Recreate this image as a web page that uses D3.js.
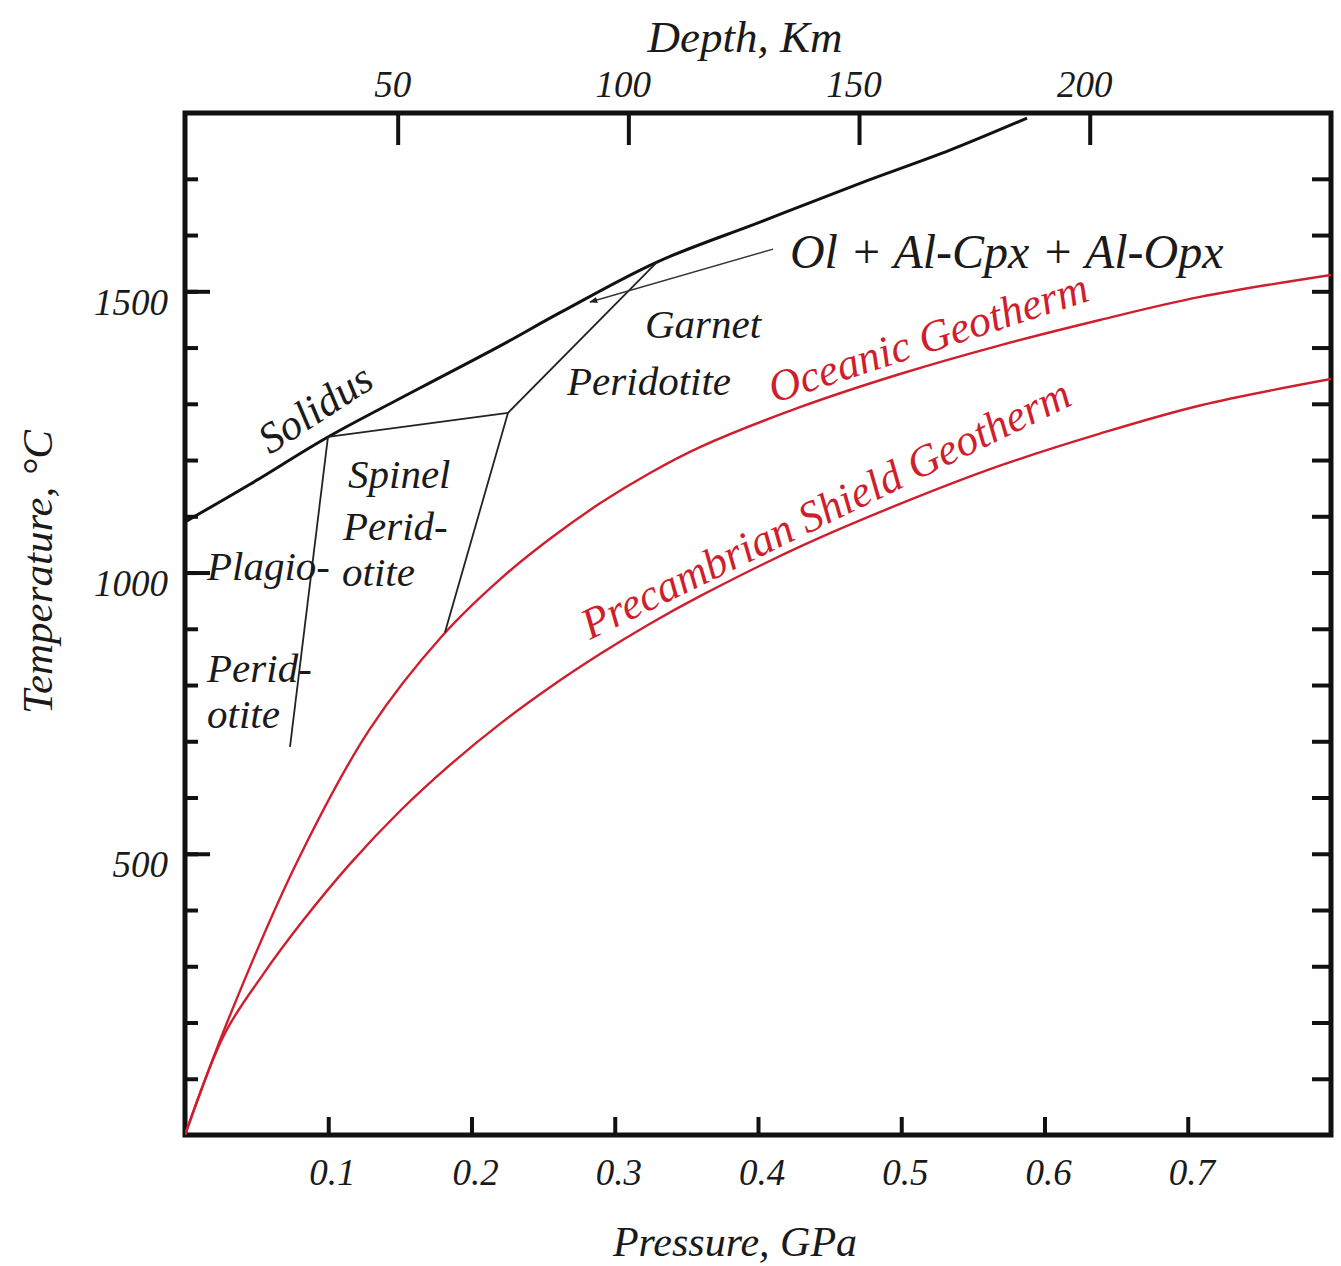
<!DOCTYPE html>
<html><head><meta charset="utf-8">
<script src="https://cdn.jsdelivr.net/npm/d3@7"></script>
<style>
body{margin:0;background:#fff;}
svg text{font-family:"Liberation Serif","DejaVu Serif",serif;font-style:italic;fill:#1a1a1a;}
</style></head><body>
<svg id="c" width="1341" height="1266"></svg>
<script>
// ---- data ----
const pressureTicks = [0.1, 0.2, 0.3, 0.4, 0.5, 0.6, 0.7];
const tempMajorTicks = [500, 1000, 1500];
const tempMinorTicks = [100, 200, 300, 400, 500, 600, 700, 800, 900, 1000, 1100, 1200, 1300, 1400, 1500, 1600, 1700];
const depthTicks = [50, 100, 150, 200];

// [pressure GPa, temperature °C]
const solidus = [[0,1090],[0.0454,1157],[0.0998,1241],[0.164,1328],[0.220,1403],[0.2618,1462],[0.3295,1552],[0.4014,1623],[0.4712,1692],[0.534,1751],[0.5878,1808]];
const plagioSpinel = [[0.0998,1241],[0.0733,690]];
const spinelTop = [[0.0998,1241],[0.2255,1284]];
const spinelGarnetLow = [[0.2255,1284],[0.1815,894]];
const spinelGarnetHigh = [[0.2255,1284],[0.3295,1552]];
const arrowLeader = [[0.4105,1575],[0.2827,1481]];
const oceanic = [[0,0],[0.030,204],[0.0789,489],[0.1291,722],[0.1801,889],[0.2199,988],[0.2548,1060],[0.2897,1123],[0.3246,1177],[0.3595,1223],[0.4293,1294],[0.4991,1353],[0.5689,1404],[0.6387,1449],[0.7086,1490],[0.800,1529]];
const precambrian = [[0,0],[0.0279,181],[0.0538,283],[0.0817,379],[0.1152,482],[0.1501,576],[0.1850,658],[0.2199,731],[0.2548,796],[0.2897,855],[0.3246,909],[0.3595,958],[0.4293,1046],[0.4991,1122],[0.5689,1190],[0.6387,1247],[0.7086,1297],[0.800,1344]];

const regionLabels = [
  {lines:["Plagio-"], p:0.0154, T:987},
  {lines:["Perid-"], p:0.0154, T:805},
  {lines:["otite"], p:0.0154, T:723},
  {lines:["Spinel"], p:0.1138, T:1150},
  {lines:["Perid-"], p:0.1103, T:1058},
  {lines:["otite"], p:0.1096, T:976},
  {lines:["Garnet"], p:0.3211, T:1417},
  {lines:["Peridotite"], p:0.2667, T:1316}
];

// ---- layout ----
const M = {left:185, top:113};
const W = 1146, H = 1022;
const svg = d3.select("#c");
const g = svg.append("g").attr("transform", `translate(${M.left},${M.top})`);

const x = d3.scaleLinear().domain([0, 0.8]).range([0, W]);
const y = d3.scaleLinear().domain([0, 1817]).range([H, 0]);
const depth = d3.scaleLinear().domain([3.9, 252.3]).range([0, W]);

const line = d3.line().x(d => x(d[0])).y(d => y(d[1]));
const curve = d3.line().x(d => x(d[0])).y(d => y(d[1])).curve(d3.curveCatmullRom.alpha(0.5));

const FS_TICK = 37;

const bAx = g.append("g").attr("transform", `translate(0,${H})`)
  .call(d3.axisBottom(x).tickValues(pressureTicks).tickSize(-18).tickPadding(24).tickFormat(d3.format(".1f")));
const tAx = g.append("g")
  .call(d3.axisTop(depth).tickValues(depthTicks).tickSize(-32).tickPadding(16).tickFormat(d3.format("d")));
const lMin = g.append("g").call(d3.axisLeft(y).tickValues(tempMinorTicks).tickSize(-13).tickFormat(""));
const lMaj = g.append("g").call(d3.axisLeft(y).tickValues(tempMajorTicks).tickSize(-25).tickPadding(17).tickFormat(d3.format("d")));
const rAx = g.append("g").attr("transform", `translate(${W},0)`)
  .call(d3.axisRight(y).tickValues(tempMinorTicks).tickSize(-19).tickFormat(""));

[bAx, tAx, lMin, lMaj, rAx].forEach(a => {
  a.select(".domain").remove();
  a.selectAll(".tick line").attr("stroke", "#111").attr("stroke-width", 4);
  a.selectAll(".tick text").attr("font-size", FS_TICK).attr("fill", "#1a1a1a")
    .style("font-family", '"Liberation Serif",serif').style("font-style", "italic");
});
lMaj.selectAll(".tick text").attr("dy", "0.62em");
bAx.selectAll(".tick text").attr("dx", "0.1em");
tAx.selectAll(".tick text").attr("dx", "-0.15em");

g.append("rect").attr("x", 0).attr("y", 0).attr("width", W).attr("height", H)
  .attr("fill", "none").attr("stroke", "#111").attr("stroke-width", 5);

const defs = svg.append("defs");
defs.append("clipPath").attr("id", "clip").append("rect").attr("width", W).attr("height", H);
defs.append("marker").attr("id", "arr").attr("viewBox", "0 0 10 10").attr("refX", 9).attr("refY", 5)
  .attr("markerWidth", 14).attr("markerHeight", 8).attr("markerUnits", "userSpaceOnUse").attr("orient", "auto")
  .append("path").attr("d", "M0,1 L10,5 L0,9 Z").attr("fill", "#222");

const plot = g.append("g").attr("clip-path", "url(#clip)");

const RED = "#cf1f2e";
plot.append("path").datum(oceanic).attr("d", curve).attr("fill", "none").attr("stroke", RED).attr("stroke-width", 2.4);
plot.append("path").datum(precambrian).attr("d", curve).attr("fill", "none").attr("stroke", RED).attr("stroke-width", 2.4);

plot.append("path").datum(solidus).attr("d", curve).attr("fill", "none").attr("stroke", "#111").attr("stroke-width", 3);
[plagioSpinel, spinelTop, spinelGarnetLow, spinelGarnetHigh].forEach(s =>
  plot.append("path").datum(s).attr("d", line).attr("fill", "none").attr("stroke", "#222").attr("stroke-width", 1.8));
plot.append("path").datum(arrowLeader).attr("d", line).attr("fill", "none").attr("stroke", "#333")
  .attr("stroke-width", 1.4).attr("marker-end", "url(#arr)");

const FS_LAB = 41;
regionLabels.forEach(l => {
  g.append("text").attr("x", x(l.p)).attr("y", y(l.T)).attr("font-size", FS_LAB).text(l.lines[0]);
});

g.append("text").attr("x", x(0.4223)).attr("y", y(1541)).attr("font-size", 48).text("Ol + Al-Cpx + Al-Opx");

g.append("text").attr("transform", `translate(${x(0.0593)},${y(1209)}) rotate(-33)`)
  .attr("font-size", 43).text("Solidus");

g.append("text").attr("transform", `translate(${x(0.4112)},${y(1301)}) rotate(-18)`)
  .attr("font-size", 44).style("fill", RED).text("Oceanic Geotherm");
g.append("text").attr("transform", `translate(${x(0.2827)},${y(880)}) rotate(-26)`)
  .attr("font-size", 44).style("fill", RED).text("Precambrian Shield Geotherm");

svg.append("text").attr("x", 745).attr("y", 52).attr("text-anchor", "middle").attr("font-size", 45).text("Depth, Km");
svg.append("text").attr("x", 735).attr("y", 1256).attr("text-anchor", "middle").attr("font-size", 42).text("Pressure, GPa");
svg.append("text").attr("transform", "translate(52,572) rotate(-90)").attr("text-anchor", "middle")
  .attr("font-size", 43).text("Temperature, °C");
</script>
</body></html>
